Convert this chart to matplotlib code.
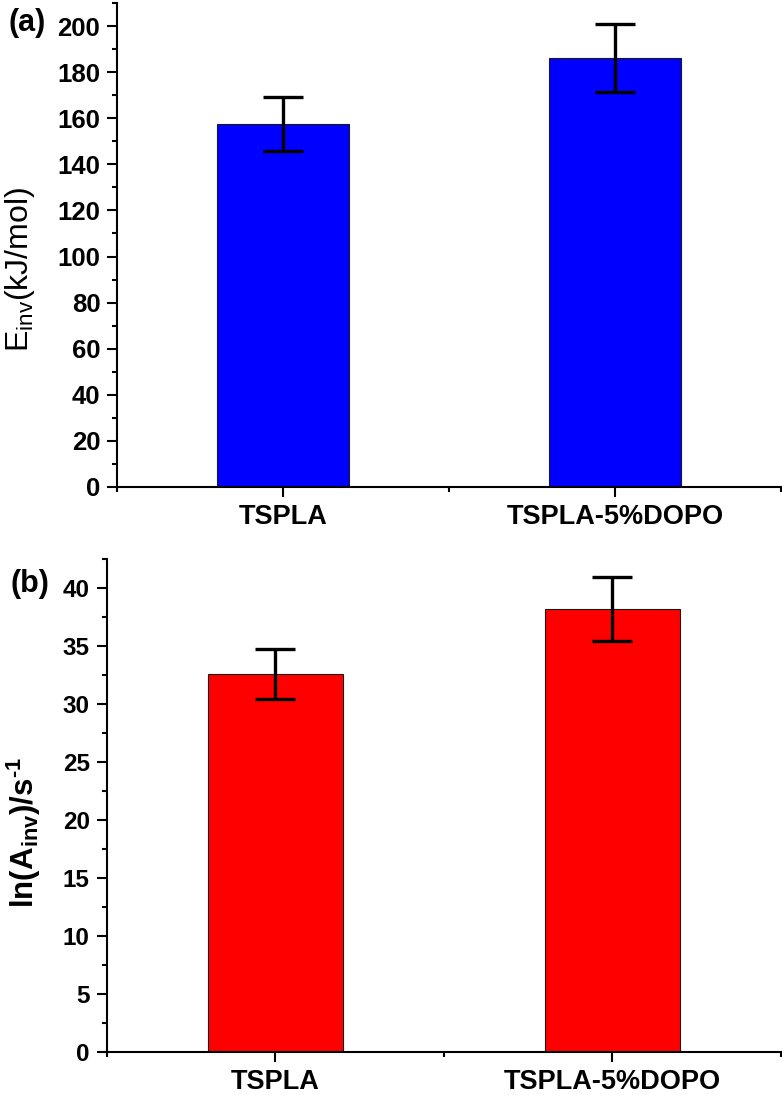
import numpy as np
import matplotlib
matplotlib.use('Agg')
import matplotlib.pyplot as plt
from matplotlib.ticker import MultipleLocator, FixedLocator

samples = ['TSPLA', 'TSPLA-5%DOPO']
e_inv = [157.6, 186.0]
e_inv_err = [11.8, 14.8]
ln_a_inv = [32.6, 38.2]
ln_a_inv_err = [2.15, 2.75]

plt.rcParams['font.family'] = ['Liberation Sans', 'DejaVu Sans']
plt.rcParams['mathtext.default'] = 'regular'

W, H = 782, 1095
fig = plt.figure(figsize=(W / 100, H / 100), dpi=100)
ax1 = fig.add_axes([117 / W, 1 - 487 / H, 664 / W, 484 / H])
ax2 = fig.add_axes([106.5 / W, 1 - 1052 / H, 674.5 / W, 493 / H])


def draw_panel(ax, vals, errs, color, ymax, major, minor, ysize):
    x = np.arange(len(samples))
    ax.bar(x, vals, width=0.4, color=color, edgecolor='#1a1a1a',
           linewidth=0.8, zorder=2)
    ax.errorbar(x, vals, yerr=errs, fmt='none', ecolor='black',
                elinewidth=2.4, capsize=14.5, capthick=2.4, zorder=3)
    ax.set_xlim(-0.5, 1.5)
    ax.set_ylim(0, ymax)
    ax.set_xticks(x)
    ax.set_xticklabels(samples, fontsize=19.5, fontweight='bold')
    ax.xaxis.set_minor_locator(FixedLocator([-0.5, 0.5, 1.5]))
    ax.yaxis.set_major_locator(MultipleLocator(major))
    ax.yaxis.set_minor_locator(MultipleLocator(minor))
    for lab in ax.get_yticklabels():
        lab.set_fontsize(ysize)
        lab.set_fontweight('bold')
    for s in ['top', 'right']:
        ax.spines[s].set_visible(False)
    for s in ['left', 'bottom']:
        ax.spines[s].set_linewidth(1.5)
    ax.tick_params(which='major', direction='out', length=7, width=1.5, pad=5)
    ax.tick_params(which='minor', direction='out', length=3.5, width=1.5)


draw_panel(ax1, e_inv, e_inv_err, '#0000ff', 210, 20, 10, 18.5)
draw_panel(ax2, ln_a_inv, ln_a_inv_err, '#ff0000', 42.5, 5, 2.5, 17.5)

ax1.set_ylabel('E$_{inv}$(kJ/mol)', fontsize=23)
ax1.yaxis.set_label_coords(-0.12, 0.45)
ax2.set_ylabel('ln(A$_{inv}$)/s$^{\u2010 1}$', fontsize=22.5, fontweight='bold')
ax2.yaxis.set_label_coords(-0.094, 0.445)

fig.text(8 / W, 1 - 23 / H, '(a)', fontsize=22, fontweight='bold', va='center')
fig.text(10 / W, 1 - 584 / H, '(b)', fontsize=22, fontweight='bold', va='center')

fig.savefig('out.png', dpi=100)
